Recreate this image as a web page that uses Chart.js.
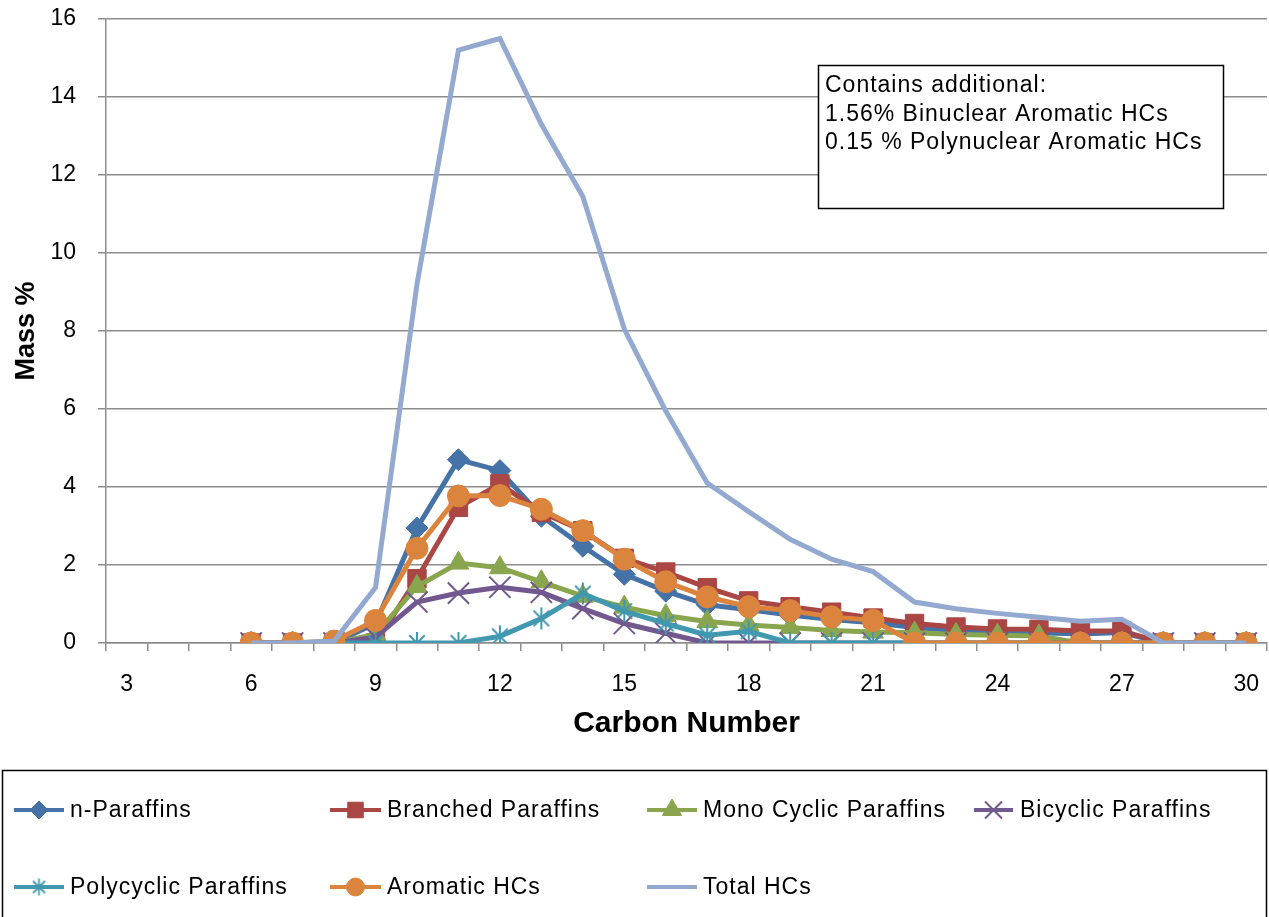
<!DOCTYPE html>
<html>
<head>
<meta charset="utf-8">
<title>Hydrocarbon distribution by carbon number</title>
<script src="https://cdn.jsdelivr.net/npm/chart.js@4.4.1/dist/chart.umd.min.js"></script>
<style>
  html, body { margin: 0; padding: 0; background: #ffffff; }
  #wrap { width: 1269px; height: 917px; position: relative; }
</style>
</head>
<body>
<div id="wrap"><canvas id="chart"></canvas></div>
<script>
// Carbon numbers along the x axis (category axis, a label on every third)
const carbonNumbers = ['3','4','5','6','7','8','9','10','11','12','13','14','15','16',
                       '17','18','19','20','21','22','23','24','25','26','27','28','29','30'];

// Mass % per hydrocarbon class, C3..C30 (null = not measured)
const nParaffins       = [null,null,null,0,0,0,0.5,2.95,4.7,4.42,3.25,2.48,1.76,1.33,0.98,0.85,0.72,0.6,0.52,0.4,0.32,0.28,0.26,0.23,0.27,0,0,0];
const branchedParaffins= [null,null,null,0,0,0,0,1.65,3.48,4.08,3.35,2.88,2.17,1.82,1.42,1.08,0.93,0.79,0.64,0.5,0.41,0.36,0.35,0.31,0.31,0,0,0];
const monoCyclic       = [null,null,null,0,0,0,0.22,1.45,2.05,1.93,1.57,1.2,0.92,0.7,0.55,0.46,0.4,0.32,0.28,0.26,0.22,0.2,0.18,0,0,0,0,0];
const bicyclic         = [null,null,null,0,0,0,0.15,1.05,1.28,1.43,1.3,0.88,0.5,0.25,0,0,0,0,0,0,0,0,0,0,0,0,0,0];
const polycyclic       = [null,null,null,0,0,0,0,0,0,0.17,0.63,1.27,0.82,0.5,0.2,0.3,0,0,0,0,0,0,0,0,0,0,0,0];
const aromaticHCs      = [null,null,null,0,0,0.05,0.58,2.43,3.77,3.78,3.43,2.88,2.15,1.57,1.18,0.93,0.83,0.67,0.58,0,0,0,0,0,0,0,0,0];
const totalHCs         = [null,null,null,0,0,0.05,1.42,9.2,15.2,15.5,13.3,11.45,8.05,5.95,4.1,3.37,2.66,2.15,1.83,1.05,0.88,0.76,0.66,0.56,0.61,0,0,0];

const seriesNames = ['n-Paraffins','Branched Paraffins','Mono Cyclic Paraffins','Bicyclic Paraffins',
                     'Polycyclic Paraffins','Aromatic HCs','Total HCs'];

const noteLines = ['Contains additional:', '1.56% Binuclear Aromatic HCs', '0.15 % Polynuclear Aromatic HCs'];

const FONT = '"Liberation Sans", Arial, Helvetica, sans-serif';
const GRID = '#8c8c8c';

// Asterisk marker (vertical stroke plus an X)
function asterisk(color, size, lw) {
  const c = document.createElement('canvas');
  c.width = size; c.height = size;
  const g = c.getContext('2d');
  const m = size / 2, r = size / 2 - 1, d = r * Math.SQRT1_2;
  g.strokeStyle = color; g.lineWidth = lw; g.lineCap = 'butt';
  g.beginPath();
  g.moveTo(m, m - r); g.lineTo(m, m + r);
  g.moveTo(m - d, m - d); g.lineTo(m + d, m + d);
  g.moveTo(m + d, m - d); g.lineTo(m - d, m + d);
  g.stroke();
  return c;
}

const styles = [
  { color: '#4572A7', point: 'rectRot',  radius: 11, bw: 1, legendRadius: 9 },
  { color: '#AA4643', point: 'rect',     radius: 13, bw: 1, legendRadius: 11 },
  { color: '#89A54E', point: 'triangle', radius: 12, bw: 1, legendRadius: 11 },
  { color: '#71588F', point: 'crossRot', radius: 15, bw: 2, legendRadius: 12 },
  { color: '#4198AF', point: asterisk('#4198AF', 24, 2), radius: 12, bw: 2, legendPoint: asterisk('#4198AF', 19, 1.8), legendRadius: 9 },
  { color: '#DB843D', point: 'circle',   radius: 11, bw: 1, legendRadius: 9 },
  { color: '#93A9CF', point: false,      radius: 0,  bw: 0, legendRadius: 0 }
];

const seriesData = [nParaffins, branchedParaffins, monoCyclic, bicyclic, polycyclic, aromaticHCs, totalHCs];

const datasets = seriesData.map((vals, i) => {
  const s = styles[i];
  return {
    label: seriesNames[i],
    data: vals,
    borderColor: s.color,
    backgroundColor: s.color,
    borderWidth: 5,
    pointStyle: s.point,
    pointRadius: s.radius,
    pointBackgroundColor: s.color,
    pointBorderColor: s.color,
    pointBorderWidth: s.bw,
    tension: 0,
    fill: false,
    order: seriesData.length - 1 - i
  };
});

// Legend box along the bottom, laid out in columns: [line start, line end, text x]
const legendCols = [[14, 64, 70], [330, 381, 387], [647, 697, 703], [974, 1013, 1020]];
const legendRows = [810, 887];
const bottomLegend = {
  id: 'bottomLegend',
  afterDraw(chart) {
    const ctx = chart.ctx;
    ctx.save();
    ctx.strokeStyle = '#000000';
    ctx.lineWidth = 1.5;
    ctx.strokeRect(2.5, 770.5, 1264, 200);
    chart.data.datasets.forEach((ds, i) => {
      const s = styles[i];
      const [x0, x1, tx] = legendCols[i % 4];
      const y = legendRows[Math.floor(i / 4)];
      ctx.strokeStyle = s.color;
      ctx.lineWidth = 4;
      ctx.beginPath();
      ctx.moveTo(x0, y); ctx.lineTo(x1, y);
      ctx.stroke();
      if (s.legendRadius > 0) {
        ctx.fillStyle = s.color;
        ctx.strokeStyle = s.color;
        ctx.lineWidth = s.bw;
        Chart.helpers.drawPoint(ctx, {
          pointStyle: s.legendPoint || s.point,
          radius: s.legendRadius,
          rotation: 0,
          borderWidth: s.bw
        }, (x0 + x1) / 2, y);
      }
      ctx.fillStyle = '#000000';
      ctx.font = '23px ' + FONT;
      ctx.letterSpacing = '1px';
      ctx.textAlign = 'left';
      ctx.textBaseline = 'middle';
      ctx.fillText(ds.label, tx, y + 1);
      ctx.letterSpacing = '0px';
    });
    ctx.restore();
  }
};

// Text box in the upper right of the plot
const noteBox = {
  id: 'noteBox',
  afterDatasetsDraw(chart) {
    const ctx = chart.ctx;
    ctx.save();
    ctx.fillStyle = '#ffffff';
    ctx.fillRect(818, 65, 405, 143);
    ctx.strokeStyle = '#000000';
    ctx.lineWidth = 1.5;
    ctx.strokeRect(818.5, 65.5, 405, 143);
    ctx.fillStyle = '#000000';
    ctx.font = '23px ' + FONT;
    ctx.letterSpacing = '1px';
    ctx.textAlign = 'left';
    ctx.textBaseline = 'middle';
    noteLines.forEach((t, k) => ctx.fillText(t, 825, 86 + k * 28.5));
    ctx.letterSpacing = '0px';
    ctx.restore();
  }
};

new Chart(document.getElementById('chart'), {
  type: 'line',
  data: { labels: carbonNumbers, datasets },
  plugins: [noteBox, bottomLegend],
  options: {
    responsive: true,
    maintainAspectRatio: false,
    animation: false,
    events: [],
    layout: { autoPadding: false, padding: { top: 19, right: 2, bottom: 164, left: 0 } },
    plugins: { legend: { display: false }, tooltip: { enabled: false } },
    scales: {
      x: {
        type: 'category',
        offset: true,
        afterFit(scale) { scale.height = 110; scale.paddingLeft = 0; scale.paddingRight = 0; },
        grid: { offset: true, drawOnChartArea: false, drawTicks: true, tickLength: 8, color: GRID, lineWidth: 1.5 },
        border: { display: true, color: GRID, width: 1.5 },
        ticks: {
          autoSkip: false, maxRotation: 0, minRotation: 0, padding: 20,
          color: '#000000', font: { family: FONT, size: 23 },
          callback(value, index) { return index % 3 === 0 ? this.getLabelForValue(value) : ''; }
        },
        title: {
          display: true, text: 'Carbon Number', color: '#000000',
          font: { family: FONT, size: 30, weight: 'bold' },
          padding: { top: 0, bottom: 11 }
        }
      },
      y: {
        min: 0, max: 16,
        afterFit(scale) { scale.width = 106; scale.paddingTop = 0; scale.paddingBottom = 0; },
        grid: { color: GRID, lineWidth: 1.5, tickLength: 8, drawTicks: true },
        border: { display: true, color: GRID, width: 1.5 },
        ticks: { stepSize: 2, padding: 22, color: '#000000', font: { family: FONT, size: 23 } },
        title: {
          display: true, text: 'Mass %', color: '#000000',
          font: { family: FONT, size: 27, weight: 'bold' },
          padding: { top: 10, bottom: 0 }
        }
      }
    }
  }
});
</script>
</body>
</html>
